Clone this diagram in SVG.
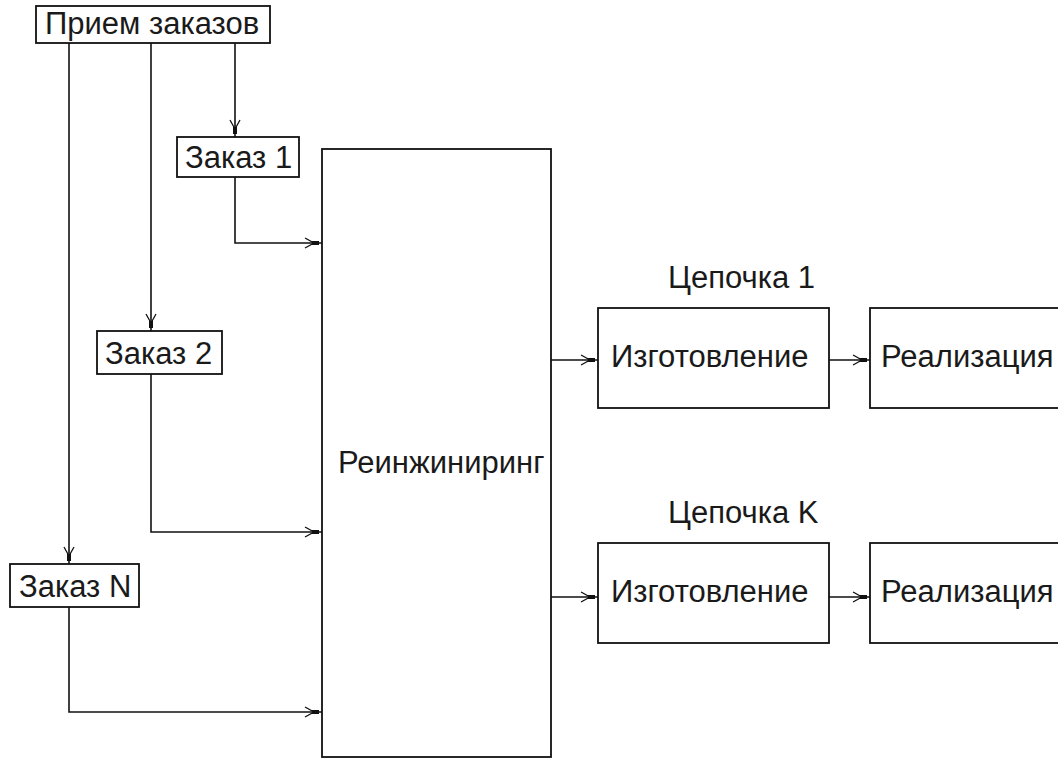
<svg xmlns="http://www.w3.org/2000/svg" width="1058" height="758" viewBox="0 0 1058 758">
<style>
.box{fill:#fff;stroke:#111;stroke-width:1.8}
.lbl{font-family:"Liberation Sans",Arial,sans-serif;font-size:31px;fill:#1a1a1a}
.con{fill:none;stroke:#111;stroke-width:1.6}
</style>
<defs>
<marker id="arr" markerUnits="userSpaceOnUse" viewBox="0 0 20 12" refX="20" refY="6" markerWidth="20" markerHeight="12" orient="auto">
<path d="M3,1 L12,6 L3,11" fill="none" stroke="#111" stroke-width="1.3"/>
<rect x="10" y="4" width="7" height="4" fill="#111"/>
</marker>
</defs>
<rect width="1058" height="758" fill="#fff"/>
<g id="connectors">
<path class="con" d="M235,43 V137" marker-end="url(#arr)"/>
<path class="con" d="M151,43 V331" marker-end="url(#arr)"/>
<path class="con" d="M69,43 V564" marker-end="url(#arr)"/>
<path class="con" d="M235,177 V243 H322" marker-end="url(#arr)"/>
<path class="con" d="M151,374 V532 H322" marker-end="url(#arr)"/>
<path class="con" d="M69,607 V712 H322" marker-end="url(#arr)"/>
<path class="con" d="M551,360 H598" marker-end="url(#arr)"/>
<path class="con" d="M829,360 H870" marker-end="url(#arr)"/>
<path class="con" d="M551,597 H598" marker-end="url(#arr)"/>
<path class="con" d="M829,597 H870" marker-end="url(#arr)"/>
</g>
<g id="priem"><rect class="box" x="36" y="6" width="234" height="37"/><text class="lbl" x="45" y="34">Прием заказов</text></g>
<g id="zakaz1"><rect class="box" x="177" y="137" width="122" height="40"/><text class="lbl" x="185" y="168">Заказ 1</text></g>
<g id="zakaz2"><rect class="box" x="97" y="331" width="125" height="43"/><text class="lbl" x="105" y="364">Заказ 2</text></g>
<g id="zakazN"><rect class="box" x="10" y="564" width="129" height="43"/><text class="lbl" x="19" y="597">Заказ N</text></g>
<g id="reeng"><rect class="box" x="322" y="149" width="229" height="608"/><text class="lbl" x="338" y="473">Реинжиниринг</text></g>
<g id="chain1label"><text class="lbl" x="668" y="288">Цепочка 1</text></g>
<g id="izg1"><rect class="box" x="598" y="308" width="231" height="100"/><text class="lbl" x="611" y="367">Изготовление</text></g>
<g id="real1"><rect class="box" x="870" y="308" width="200" height="100"/><text class="lbl" x="881" y="367">Реализация</text></g>
<g id="chainKlabel"><text class="lbl" x="668" y="523">Цепочка K</text></g>
<g id="izgK"><rect class="box" x="598" y="543" width="231" height="100"/><text class="lbl" x="611" y="602">Изготовление</text></g>
<g id="realK"><rect class="box" x="870" y="543" width="200" height="100"/><text class="lbl" x="881" y="602">Реализация</text></g>
</svg>
